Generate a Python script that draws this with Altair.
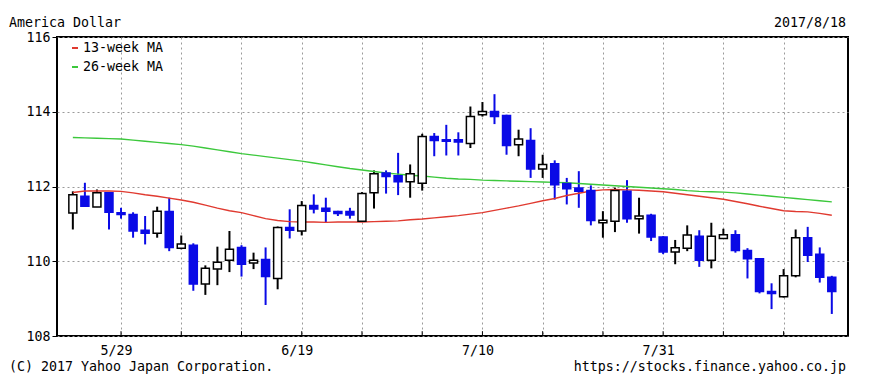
import altair as alt
import pandas as pd

# ---- data ----
idx = list(range(64))
opens = [111.29, 111.74, 111.45, 111.83, 111.30, 111.25, 110.83, 110.75, 111.33, 110.35,
         110.43, 109.39, 109.79, 110.03, 110.37, 109.95, 110.05, 109.54, 110.90, 110.81,
         111.49, 111.42, 111.33, 111.33, 111.07, 111.83, 112.36, 112.29, 112.13, 112.09,
         113.34, 113.25, 113.25, 113.15, 113.92, 114.01, 113.90, 113.12, 113.23, 112.47,
         112.61, 112.08, 111.96, 111.89, 111.03, 111.07, 111.87, 111.14, 111.23, 110.65,
         110.25, 110.35, 110.67, 110.03, 110.61, 110.71, 110.29, 110.07, 109.19, 109.05,
         109.61, 110.63, 110.19, 109.57]
highs = [111.87, 112.10, 111.92, 111.85, 111.43, 111.31, 111.21, 111.46, 111.70, 110.69,
         110.48, 109.89, 110.39, 110.81, 110.43, 110.23, 110.37, 110.93, 111.39, 111.61,
         111.79, 111.70, 111.35, 111.43, 111.85, 112.43, 112.43, 112.90, 112.59, 113.41,
         113.43, 113.65, 113.45, 114.14, 114.26, 114.47, 113.92, 113.52, 113.56, 112.85,
         112.70, 112.23, 112.41, 112.03, 111.34, 111.97, 112.17, 111.70, 111.27, 110.67,
         110.57, 110.96, 110.83, 111.03, 110.87, 110.83, 110.35, 110.08, 109.41, 109.79,
         110.85, 110.92, 110.37, 109.61]
lows = [110.85, 111.46, 111.45, 110.85, 111.14, 110.63, 110.45, 110.63, 110.27, 110.32,
        109.21, 109.10, 109.36, 109.71, 109.59, 109.79, 108.83, 109.25, 110.61, 110.69,
        111.28, 111.03, 111.21, 111.14, 111.05, 111.41, 111.81, 111.77, 111.70, 111.89,
        112.81, 112.83, 112.83, 113.03, 113.87, 113.67, 112.85, 112.81, 112.23, 112.23,
        111.65, 111.52, 111.43, 110.96, 110.63, 110.78, 111.03, 110.74, 110.54, 110.19,
        109.92, 110.27, 109.85, 109.81, 110.61, 110.23, 109.54, 109.14, 108.72, 109.03,
        109.57, 109.98, 109.43, 108.59]
closes = [111.78, 111.47, 111.83, 111.31, 111.25, 110.81, 110.75, 111.34, 110.37, 110.46,
          109.39, 109.81, 109.97, 110.32, 109.92, 110.03, 109.59, 110.90, 110.83, 111.49,
          111.40, 111.34, 111.28, 111.24, 111.81, 112.34, 112.27, 112.13, 112.34, 113.34,
          113.23, 113.21, 113.19, 113.87, 114.01, 113.87, 113.10, 113.27, 112.47, 112.59,
          112.05, 111.94, 111.87, 111.09, 111.10, 111.89, 111.14, 111.21, 110.65, 110.25,
          110.36, 110.70, 110.03, 110.67, 110.71, 110.29, 110.07, 109.19, 109.14, 109.61,
          110.63, 110.16, 109.57, 109.19]
ma13 = [111.84, 111.88, 111.88, 111.88, 111.87, 111.83, 111.78, 111.74, 111.69, 111.64,
        111.58, 111.50, 111.42, 111.35, 111.30, 111.22, 111.14, 111.09, 111.06, 111.05,
        111.05, 111.04, 111.05, 111.05, 111.05, 111.06, 111.07, 111.08, 111.11, 111.13,
        111.16, 111.19, 111.22, 111.26, 111.30, 111.36, 111.42, 111.48, 111.55, 111.62,
        111.68, 111.76, 111.82, 111.88, 111.91, 111.92, 111.91, 111.90, 111.88, 111.86,
        111.82, 111.78, 111.74, 111.70, 111.66, 111.60, 111.54, 111.47, 111.41, 111.35,
        111.33, 111.32, 111.28, 111.23]
ma26 = [113.31, 113.30, 113.29, 113.28, 113.27, 113.24, 113.21, 113.18, 113.15, 113.12,
        113.08, 113.03, 112.98, 112.93, 112.88, 112.84, 112.80, 112.76, 112.72, 112.68,
        112.63, 112.58, 112.53, 112.48, 112.44, 112.40, 112.36, 112.33, 112.30, 112.28,
        112.25, 112.22, 112.20, 112.19, 112.17, 112.16, 112.15, 112.14, 112.13, 112.12,
        112.11, 112.10, 112.08, 112.06, 112.04, 112.02, 112.00, 111.98, 111.96, 111.94,
        111.92, 111.89, 111.87, 111.86, 111.85, 111.83, 111.80, 111.77, 111.74, 111.71,
        111.68, 111.65, 111.62, 111.59]
week_ticks = [4, 9, 14, 19, 24, 29, 34, 39, 44, 49, 54, 59]
date_labels = {4: "5/29", 19: "6/19", 34: "7/10", 49: "7/31"}
y_ticks = [108, 110, 112, 114, 116]

FONT = "DejaVu Sans Mono"
FS = 13.3
BLUE = "#0a0ae6"
RED = "#e03a30"
GREEN = "#3cc83c"

df = pd.DataFrame({"i": idx, "open": opens, "high": highs, "low": lows,
                   "close": closes, "ma13": ma13, "ma26": ma26})
df["dir"] = ["up" if c >= o else "down" for o, c in zip(opens, closes)]

label_expr = " : ".join(f"datum.value == {k} ? '{v}'" for k, v in date_labels.items()) + " : ''"

xscale = alt.Scale(domain=[-0.9, 63.93], nice=False, zero=False)
yscale = alt.Scale(domain=[108, 116], nice=False, zero=False)

X = alt.X("i:Q", scale=xscale, title=None,
          axis=alt.Axis(values=week_ticks, labelExpr=label_expr, ticks=False,
                        domain=False, grid=True, labelOffset=-5, labelPadding=7))
Y = alt.Y("low:Q", scale=yscale, title=None,
          axis=alt.Axis(values=y_ticks, format="d", ticks=True, tickSize=5,
                        tickColor="black", domain=False, grid=True, labelPadding=2))

base = alt.Chart(df)

line13 = base.mark_line(color=RED, strokeWidth=1.4).encode(
    x=alt.X("i:Q", scale=xscale), y=alt.Y("ma13:Q", scale=yscale))
line26 = base.mark_line(color=GREEN, strokeWidth=1.4).encode(
    x=alt.X("i:Q", scale=xscale), y=alt.Y("ma26:Q", scale=yscale))

stroke_enc = alt.Stroke("dir:N", scale=alt.Scale(domain=["up", "down"], range=["black", BLUE]), legend=None)
fill_enc = alt.Fill("dir:N", scale=alt.Scale(domain=["up", "down"], range=["white", BLUE]), legend=None)

wicks = base.mark_rule(strokeWidth=2).encode(
    x=X, y=Y, y2="high:Q", stroke=stroke_enc)
bodies = base.mark_bar(size=8, strokeWidth=1.5).encode(
    x=alt.X("i:Q", scale=xscale), y=alt.Y("open:Q", scale=yscale), y2="close:Q",
    fill=fill_enc, stroke=stroke_enc)

tick_df = pd.DataFrame({"t": week_ticks, "y0": [108] * len(week_ticks), "y1": [108.13] * len(week_ticks)})
inner_ticks = alt.Chart(tick_df).mark_rule(color="black", strokeWidth=1).encode(
    x=alt.X("t:Q", scale=xscale), y=alt.Y("y0:Q", scale=yscale), y2="y1:Q")

def txt(s, x, y, align="left", color="black"):
    return alt.Chart(pd.DataFrame({"s": [s]})).mark_text(
        align=align, baseline="middle", font=FONT, fontSize=FS, color=color).encode(
        text="s:N", x=alt.value(x), y=alt.value(y))

leg_marks = alt.Chart(pd.DataFrame({"a": [0]})).mark_rule(color=RED, strokeWidth=2).encode(
    x=alt.value(15), x2=alt.value(21), y=alt.value(11))
leg_marks2 = alt.Chart(pd.DataFrame({"a": [0]})).mark_rule(color=GREEN, strokeWidth=2).encode(
    x=alt.value(15), x2=alt.value(21), y=alt.value(30))

texts = [
    txt("America Dollar", -48, -14),
    txt("2017/8/18", 789, -14, align="right"),
    txt("(C) 2017 Yahoo Japan Corporation.", -48, 330),
    txt("https://stocks.finance.yahoo.co.jp", 789, 330, align="right"),
    txt("13-week MA", 26, 11),
    txt("26-week MA", 26, 30),
]

chart = alt.layer(
    wicks, line26, line13, bodies, inner_ticks, leg_marks, leg_marks2, *texts
).properties(
    width=791, height=299,
    autosize=alt.AutoSizeParams(type="none"),
    padding={"left": 49, "top": 29, "right": 14, "bottom": 44},
    background="white",
).configure_view(
    stroke="black", strokeWidth=2
).configure_axis(
    gridColor="#9a9a9a", gridDash=[2, 3], gridWidth=1,
    labelFont=FONT, labelFontSize=FS, labelColor="black"
)

chart.save("out.html", embed_options={"renderer": "svg", "actions": False})
